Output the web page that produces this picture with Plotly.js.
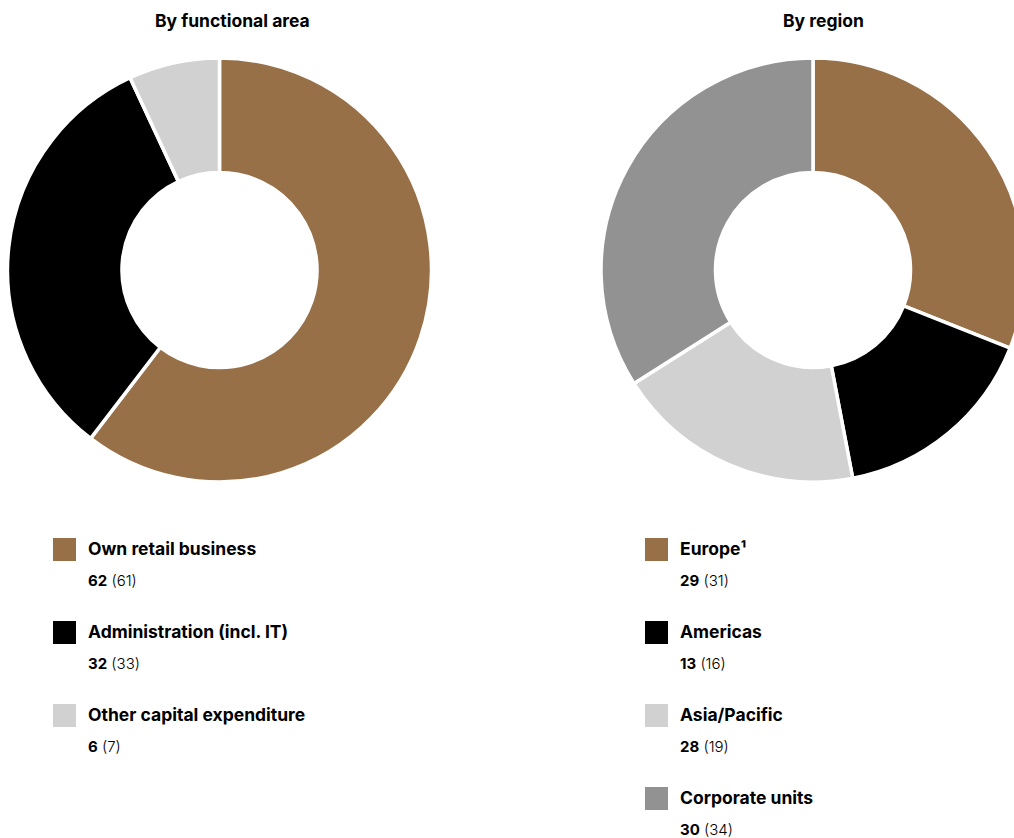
<!DOCTYPE html>
<html>
<head>
<meta charset="utf-8">
<script src="https://cdn.plot.ly/plotly-3.0.1.min.js"></script>
<style>
html, body { margin: 0; padding: 0; background: #fff; overflow: hidden; width: 1014px; height: 838px; }
#chart { width: 1100px; height: 838px; }
</style>
</head>
<body>
<div id="chart"></div>
<script>
// ---- Data ----
const functionalLabels = ["Own retail business", "Administration (incl. IT)", "Other capital expenditure"];
const functionalCurrent = [62, 32, 6];
const functionalPrevious = [61, 33, 7];

const regionLabels = ["Europe¹", "Americas", "Asia/Pacific", "Corporate units"];
const regionCurrent = [29, 13, 28, 30];
const regionPrevious = [31, 16, 19, 34];

const functionalColors = ["#977048", "#000000", "#d1d1d1"];
const regionColors = ["#977048", "#000000", "#d1d1d1", "#929292"];

const titles = ["By functional area", "By region"];

// ---- Layout helpers ----
const W = 1100, H = 838;
const FONT = "Inter, 'Open Sans', sans-serif";
const px = x => x / W;
const py = y => 1 - y / H;

function pieDomain(cx, cy, r) {
  return { x: [px(cx - r), px(cx + r)], y: [py(cy + r), py(cy - r)] };
}

const traces = [
  {
    type: "pie",
    labels: functionalLabels,
    values: functionalPrevious,
    marker: { colors: functionalColors, line: { color: "#ffffff", width: 3.5 } },
    hole: 0.46,
    sort: false,
    direction: "clockwise",
    rotation: 0,
    textinfo: "none",
    hoverinfo: "label+value",
    domain: pieDomain(219.5, 270, 212),
    showlegend: false
  },
  {
    type: "pie",
    labels: regionLabels,
    values: regionPrevious,
    marker: { colors: regionColors, line: { color: "#ffffff", width: 3.5 } },
    hole: 0.46,
    sort: false,
    direction: "clockwise",
    rotation: 0,
    textinfo: "none",
    hoverinfo: "label+value",
    domain: pieDomain(813, 270, 212),
    showlegend: false
  }
];

const annotations = [];
const shapes = [];

// Titles
[[232.5, titles[0]], [823, titles[1]]].forEach(([x, t]) => {
  annotations.push({
    xref: "paper", yref: "paper", x: px(x), y: py(20.5),
    xanchor: "center", yanchor: "middle", showarrow: false,
    text: "<b>" + t + "</b>",
    font: { family: FONT, size: 17.5, color: "#000" }
  });
});

// Custom legends
function addLegend(labels, current, previous, colors, sqX, textX) {
  const top = 538, step = 83, sq = 23;
  labels.forEach((lab, i) => {
    const y0 = top + i * step;
    shapes.push({
      type: "rect", xref: "paper", yref: "paper",
      x0: px(sqX), x1: px(sqX + sq), y0: py(y0), y1: py(y0 + sq),
      fillcolor: colors[i], line: { width: 0 }
    });
    annotations.push({
      xref: "paper", yref: "paper", x: px(textX - 2), y: py(y0 + 10),
      xanchor: "left", yanchor: "middle", showarrow: false,
      text: "<b>" + lab + "</b>",
      font: { family: FONT, size: 17.5, color: "#000" }
    });
    annotations.push({
      xref: "paper", yref: "paper", x: px(textX - 2), y: py(y0 + 42),
      xanchor: "left", yanchor: "middle", showarrow: false,
      text: "<b>" + current[i] + "</b> (" + previous[i] + ")",
      font: { family: FONT, size: 15, color: "#000", weight: 300 }
    });
  });
}
addLegend(functionalLabels, functionalCurrent, functionalPrevious, functionalColors, 53, 88);
addLegend(regionLabels, regionCurrent, regionPrevious, regionColors, 645, 680);

const layout = {
  width: W, height: H,
  margin: { l: 0, r: 0, t: 0, b: 0, pad: 0 },
  paper_bgcolor: "#ffffff",
  plot_bgcolor: "#ffffff",
  showlegend: false,
  font: { family: FONT },
  annotations: annotations,
  shapes: shapes
};

Plotly.newPlot("chart", traces, layout, { displayModeBar: false, staticPlot: true });
</script>
</body>
</html>
